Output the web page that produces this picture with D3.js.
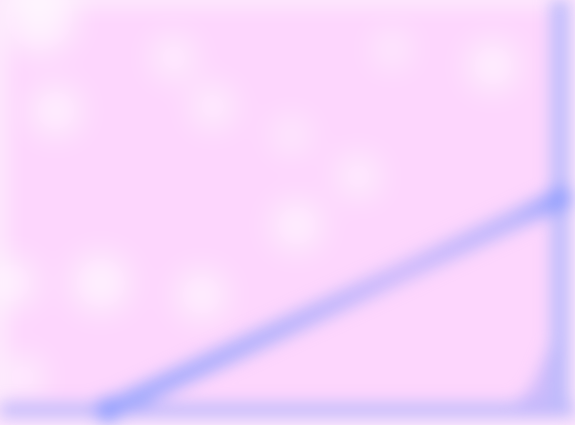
<!DOCTYPE html>
<html><head><meta charset="utf-8">
<script src="https://cdn.jsdelivr.net/npm/d3@7"></script>
<style>html,body{margin:0;padding:0;background:#fff;}svg{display:block;}</style>
</head><body>
<svg id="chart" width="575" height="425"></svg>
<script>
// Data (x and y in chart units)
const lineX = [19.3, 40, 60, 80, 100];
const lineY = [0, 13.2, 26.0, 38.8, 51.6];
const tailX = [88, 92, 95, 97, 99, 100];
const tailY = [0, 2, 6, 12, 20, 28];
const blobX = [7, 31, 10, 38, 88, 53, 64, 18, 36, 4, 52, 2, 70];
const blobY = [96, 86, 73, 74, 84, 45, 57, 31, 28, 8, 67, 31, 88];
const blobR = [9, 5, 6, 5, 6, 6, 5, 7, 6, 5, 4, 6, 4];

const svg = d3.select("#chart");
const W = 575, H = 425;
const x = d3.scaleLinear().domain([0, 100]).range([0, 560]);
const y = d3.scaleLinear().domain([0, 100]).range([410, 0]);

const defs = svg.append("defs");
defs.append("filter").attr("id","blur").attr("x","-20%").attr("y","-20%").attr("width","140%").attr("height","140%")
  .append("feGaussianBlur").attr("stdDeviation", 8);
defs.append("filter").attr("id","blur2").attr("x","-50%").attr("y","-50%").attr("width","200%").attr("height","200%")
  .append("feGaussianBlur").attr("stdDeviation", 16);
const grad = defs.append("linearGradient").attr("id","lg").attr("gradientUnits","userSpaceOnUse")
  .attr("x1", x(lineX[0])).attr("y1", y(0)).attr("x2", x(100)).attr("y2", y(lineY[lineY.length-1]));
grad.append("stop").attr("offset","0%").attr("stop-color","#9ea8fd");
grad.append("stop").attr("offset","35%").attr("stop-color","#b4b2fb");
grad.append("stop").attr("offset","65%").attr("stop-color","#cdbafb");
grad.append("stop").attr("offset","90%").attr("stop-color","#bcb6fb");
grad.append("stop").attr("offset","100%").attr("stop-color","#98a2fd");

svg.append("rect").attr("width", W).attr("height", H).attr("fill", "#fde6fd");

const g = svg.append("g").attr("filter", "url(#blur)");
g.append("rect").attr("x", 10).attr("y", 10).attr("width", x(100) - 10).attr("height", y(0) - 10).attr("fill", "#fdd6fd");

svg.append("g").attr("filter", "url(#blur2)").selectAll("circle")
  .data(blobX.map((d, i) => ({x: d, y: blobY[i], r: blobR[i]})))
  .enter().append("circle")
  .attr("cx", d => x(d.x)).attr("cy", d => y(d.y)).attr("r", d => d.r * 4)
  .attr("fill", "#ffffff").attr("opacity", 0.7);

const g2 = svg.append("g").attr("filter", "url(#blur)");
const tail = tailX.map((d, i) => [d, tailY[i]]);
g2.append("path").datum(tail)
  .attr("d", d3.area().x(d => x(d[0])).y0(y(0)).y1(d => y(d[1])).curve(d3.curveMonotoneX))
  .attr("fill", "#cdbafb");

g2.append("line").attr("x1", 0).attr("x2", W).attr("y1", y(0)).attr("y2", y(0))
  .attr("stroke", "#c0b8fb").attr("stroke-width", 14);
g2.append("line").attr("x1", x(100)).attr("x2", x(100)).attr("y1", 0).attr("y2", y(0))
  .attr("stroke", "#bcbafb").attr("stroke-width", 18);

g2.append("path").datum(lineX.map((d, i) => [d, lineY[i]]))
  .attr("d", d3.line().x(d => x(d[0])).y(d => y(d[1])))
  .attr("fill", "none").attr("stroke", "url(#lg)").attr("stroke-width", 20);

g2.selectAll("circle.end").data([[lineX[0], lineY[0]], [lineX[lineX.length-1], lineY[lineY.length-1]]])
  .enter().append("circle").attr("class", "end")
  .attr("cx", d => x(d[0])).attr("cy", d => y(d[1])).attr("r", 13).attr("fill", "#94a0fd");
</script>
</body></html>
